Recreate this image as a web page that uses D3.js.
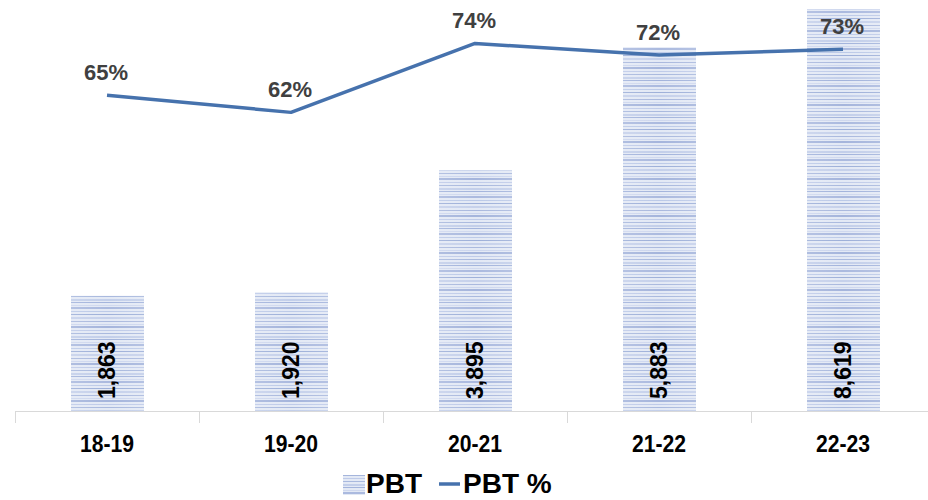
<!DOCTYPE html>
<html>
<head>
<meta charset="utf-8">
<script src="https://cdn.jsdelivr.net/npm/d3@7"></script>
<style>
  html, body { margin: 0; padding: 0; background: #fff; }
  svg { display: block; }
  text { font-family: "Liberation Sans", Arial, sans-serif; font-weight: bold; }
</style>
</head>
<body>
<svg id="chart" width="928" height="500"></svg>
<script>
// Profit before tax and PBT margin by financial year
const years = ["18-19", "19-20", "20-21", "21-22", "22-23"];
const pbt = [1863, 1920, 3895, 5883, 8619];
const pbtPct = [65, 62, 74, 72, 73];
const legendLabels = ["PBT", "PBT %"];

const W = 928, H = 500;
const plot = { left: 15, right: 935, top: 9, bottom: 411 };

const svg = d3.select("#chart");
const defs = svg.append("defs");

// Horizontal-stripe texture for the bars
const stripes = [
  [0, 1, "#a9b9de"], [3, 2, "#c3cfea"], [6, 1, "#a3b4dc"], [9, 1, "#cfd8ee"],
  [11, 2, "#abbadf"], [15, 1, "#bccae8"], [18, 1, "#9eb0d9"], [21, 2, "#c6d1eb"],
  [25, 1, "#aab9de"], [28, 1, "#ccd6ee"], [30, 2, "#a5b5dc"], [34, 1, "#bfcbe9"]
];
const pat = defs.append("pattern")
  .attr("id", "barTex")
  .attr("patternUnits", "userSpaceOnUse")
  .attr("width", W).attr("height", 37);
pat.append("rect").attr("width", W).attr("height", 37).attr("fill", "#e3e9f5");
pat.selectAll("rect.s").data(stripes).join("rect")
  .attr("class", "s")
  .attr("x", 0).attr("y", d => d[0])
  .attr("width", W).attr("height", d => d[1])
  .attr("fill", d => d[2]);

// Soft sheen across each bar
const grad = defs.append("linearGradient").attr("id", "sheen")
  .attr("x1", "0").attr("x2", "1").attr("y1", "0").attr("y2", "0");
grad.append("stop").attr("offset", "0").attr("stop-color", "#fff").attr("stop-opacity", 0.12);
grad.append("stop").attr("offset", "0.5").attr("stop-color", "#fff").attr("stop-opacity", 0);
grad.append("stop").attr("offset", "1").attr("stop-color", "#fff").attr("stop-opacity", 0.12);

defs.append("clipPath").attr("id", "plotClip")
  .append("rect")
  .attr("x", 0).attr("y", plot.top)
  .attr("width", W).attr("height", plot.bottom - plot.top);

const x = d3.scaleBand().domain(years).range([plot.left, plot.right]).paddingInner(0).paddingOuter(0);
const yBar = d3.scaleLinear().domain([0, 6500]).range([plot.bottom, plot.top]);
const yPct = d3.scaleLinear().domain([10, 80]).range([plot.bottom, plot.top]);

const barW = 73;
const bars = svg.append("g").attr("clip-path", "url(#plotClip)");
const barData = years.map((y, i) => ({ year: y, v: pbt[i] }));
const barX = d => Math.round(x(d.year) + x.bandwidth() / 2 - barW / 2);
bars.selectAll("rect.bar").data(barData).join("rect")
  .attr("class", "bar")
  .attr("x", barX)
  .attr("y", d => yBar(d.v))
  .attr("width", barW)
  .attr("height", d => plot.bottom - yBar(d.v))
  .attr("fill", "url(#barTex)");
bars.selectAll("rect.sheen").data(barData).join("rect")
  .attr("class", "sheen")
  .attr("x", barX)
  .attr("y", d => yBar(d.v))
  .attr("width", barW)
  .attr("height", d => plot.bottom - yBar(d.v))
  .attr("fill", "url(#sheen)");

// Category axis
const axis = svg.append("g").attr("transform", `translate(0,${plot.bottom})`);
axis.append("line").attr("x1", plot.left).attr("x2", W).attr("y1", 0.5).attr("y2", 0.5)
  .attr("stroke", "#d9d9d9").attr("stroke-width", 1);
const tickPos = years.map(y => x(y)).concat([x(years[years.length - 1]) + x.bandwidth()]);
axis.selectAll("line.tick").data(tickPos).join("line")
  .attr("class", "tick")
  .attr("x1", d => Math.round(d) + 0.5).attr("x2", d => Math.round(d) + 0.5)
  .attr("y1", 0).attr("y2", 12)
  .attr("stroke", "#d9d9d9");
axis.selectAll("text").data(years).join("text")
  .attr("transform", d => `translate(${x(d) + x.bandwidth() / 2},41) scale(0.92,1)`)
  .attr("text-anchor", "middle")
  .attr("font-size", 23)
  .attr("fill", "#000")
  .text(d => d);

// Value labels inside the base of each bar
svg.append("g").selectAll("text").data(barData).join("text")
  .attr("transform", d => `translate(${x(d.year) + x.bandwidth() / 2 + 8},399) rotate(-90)`)
  .attr("text-anchor", "start")
  .attr("font-size", 23)
  .attr("fill", "#000")
  .text(d => d3.format(",")(d.v));

// PBT % line
const pts = years.map((y, i) => ({ year: y, v: pbtPct[i] }));
const line = d3.line().x(d => x(d.year) + x.bandwidth() / 2).y(d => yPct(d.v));
svg.append("path").datum(pts)
  .attr("d", line)
  .attr("fill", "none")
  .attr("stroke", "#4672ad")
  .attr("stroke-width", 3.5)
  .attr("stroke-linejoin", "round");

svg.append("g").selectAll("text").data(pts).join("text")
  .attr("x", d => x(d.year) + x.bandwidth() / 2 - 1)
  .attr("y", d => yPct(d.v) - 15)
  .attr("text-anchor", "middle")
  .attr("font-size", 22)
  .attr("fill", "#404040")
  .text(d => d.v + "%");

// Legend
const lg = svg.append("g");
lg.append("rect").attr("x", 343).attr("y", 475).attr("width", 22).attr("height", 20)
  .attr("fill", "url(#barTex)");
lg.append("text").attr("x", 366).attr("y", 493).attr("font-size", 28).attr("fill", "#000")
  .text(legendLabels[0]);
lg.append("line").attr("x1", 439).attr("x2", 460).attr("y1", 484).attr("y2", 484)
  .attr("stroke", "#4672ad").attr("stroke-width", 3.5);
lg.append("text").attr("x", 463).attr("y", 493).attr("font-size", 28).attr("fill", "#000")
  .text(legendLabels[1]);
</script>
</body>
</html>
